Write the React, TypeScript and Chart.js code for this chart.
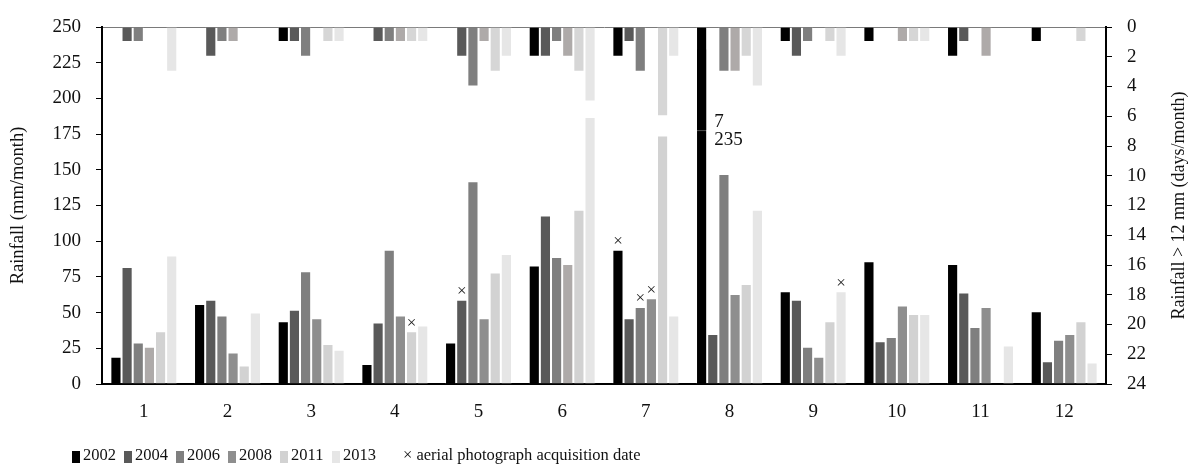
import React, { useEffect, useRef } from 'react';
import { Chart, registerables } from 'chart.js';

Chart.register(...registerables);

// ---------- data ----------
const months = ['1', '2', '3', '4', '5', '6', '7', '8', '9', '10', '11', '12'];
const years = ['2002', '2004', '2006', '2008', '2011', '2013'];

// monthly rainfall (mm/month)
const rain2002 = [19, 56, 44, 14, 29, 83, 94, 235, 65, 86, 84, 51];
const rain2004 = [82, 59, 52, 43, 59, 118, 46, 35, 59, 30, 64, 16];
const rain2006 = [29, 48, 79, 94, 142, 89, 54, 147, 26, 33, 40, 31];
const rain2008 = [26, 22, 46, 48, 46, 84, 60, 63, 19, 55, 54, 35];
const rain2011 = [37, 13, 28, 37, 78, 122, 174, 70, 44, 49, null, 44];
const rain2013 = [90, 50, 24, 41, 91, 187, 48, 122, 65, 49, 27, 15];

// days with rainfall > 12 mm (days/month)
const days2002 = [0, 0, 1, 0, 0, 2, 2, 7, 1, 1, 2, 1];
const days2004 = [1, 2, 1, 1, 2, 2, 1, 0, 2, 0, 1, 0];
const days2006 = [1, 1, 2, 1, 4, 1, 3, 3, 1, 0, 0, 0];
const days2008 = [0, 1, 0, 1, 1, 2, 0, 3, 0, 1, 2, 0];
const days2011 = [0, 0, 1, 1, 3, 3, 6, 2, 1, 1, 0, 1];
const days2013 = [3, 0, 1, 1, 2, 5, 2, 4, 2, 1, 0, 0];

const rainTicksMax = 250;
const daysTicksMax = 24;

// aerial photograph acquisition dates: [month index, year index]
const aerialMarks: [number, number][] = [
  [3, 4],
  [4, 1],
  [6, 0],
  [6, 2],
  [6, 3],
  [8, 5],
];
const breakMonthIndex = 7; // month 8, 2002 bar annotated with its values

// ---------- styles ----------
const FONT = '"Liberation Serif", "Times New Roman", serif';
const rainColors = ['#000000', '#595959', '#7f7f7f', '#8e8e8e', '#d2d2d2', '#e6e6e6'];
const dayColors = ['#000000', '#595959', '#7f7f7f', '#aeaaa9', '#d6d6d6', '#e6e6e6'];
const legendColors = ['#000000', '#595959', '#7f7f7f', '#8e8e8e', '#d2d2d2', '#e6e6e6'];
const altRain2008Color = '#aeaaa9';
const altRain2008Months = [0, 5];

const rainSeries = [rain2002, rain2004, rain2006, rain2008, rain2011, rain2013];
const daySeries = [days2002, days2004, days2006, days2008, days2011, days2013];

const overlayPlugin = {
  id: 'overlay',
  afterDatasetsDraw(chart: any) {
    const ctx = chart.ctx;
    ctx.save();
    // aerial photograph markers
    ctx.font = `17px ${FONT}`;
    ctx.fillStyle = '#222';
    ctx.textAlign = 'center';
    ctx.textBaseline = 'middle';
    aerialMarks.forEach(([m, yi]) => {
      const el = chart.getDatasetMeta(yi).data[m];
      if (el) ctx.fillText('×', el.x, el.y - 8);
    });
    // break annotation on month 8 / 2002
    const dayEl = chart.getDatasetMeta(6).data[breakMonthIndex];
    if (dayEl) {
      ctx.font = `19px ${FONT}`;
      ctx.fillStyle = '#111';
      ctx.textAlign = 'left';
      const lx = dayEl.x + dayEl.width / 2 + 7;
      ctx.fillText(String(days2002[breakMonthIndex]), lx, dayEl.y - 9);
      ctx.fillText(String(rain2002[breakMonthIndex]), lx, dayEl.y + 9);
    }
    // right axis title (reads bottom-to-top)
    const s = chart.scales.y2;
    const ca = chart.chartArea;
    ctx.translate(s.right - 15, (ca.top + ca.bottom) / 2);
    ctx.rotate(-Math.PI / 2);
    ctx.textAlign = 'center';
    ctx.font = `18px ${FONT}`;
    ctx.fillStyle = '#111';
    ctx.fillText('Rainfall > 12 mm (days/month)', 0, 0);
    ctx.restore();
  },
};

export default function App() {
  const ref = useRef<HTMLCanvasElement | null>(null);

  useEffect(() => {
    if (!ref.current) return;
    const rainDatasets = years.map((y, i) => ({
      type: 'bar' as const,
      label: y,
      data: rainSeries[i],
      yAxisID: 'y',
      stack: y,
      order: 1,
      backgroundColor:
        i === 3
          ? months.map((_, m) => (altRain2008Months.includes(m) ? altRain2008Color : rainColors[i]))
          : rainColors[i],
      borderColor: 'rgba(255,255,255,0.4)',
      borderWidth: 1,
      borderSkipped: 'start' as const,
      barPercentage: 1,
      categoryPercentage: 0.8,
    }));
    const dayDatasets = years.map((y, i) => ({
      type: 'bar' as const,
      label: y + ' days',
      data: daySeries[i],
      yAxisID: 'y2',
      stack: y,
      order: 0,
      backgroundColor: dayColors[i],
      borderColor: 'rgba(255,255,255,0.5)',
      borderWidth: 1,
      borderSkipped: 'start' as const,
      barPercentage: 1,
      categoryPercentage: 0.8,
    }));

    const tickFont = { family: FONT, size: 19 };
    const chart = new Chart(ref.current, {
      type: 'bar',
      data: { labels: months, datasets: [...rainDatasets, ...dayDatasets] as any },
      options: {
        animation: false,
        responsive: true,
        maintainAspectRatio: false,
        layout: { padding: { top: 27, left: 0, right: 0, bottom: 0 } },
        plugins: { legend: { display: false }, tooltip: { enabled: false } },
        scales: {
          x: {
            grid: { display: false, drawTicks: false },
            border: { display: true, color: '#000', width: 2 },
            ticks: { font: tickFont, color: '#111', padding: 17 },
            afterFit: (s: any) => {
              s.height = 56;
            },
          },
          y: {
            position: 'left',
            min: 0,
            max: rainTicksMax,
            stacked: false,
            ticks: { stepSize: 25, font: tickFont, color: '#111', padding: 15 },
            grid: {
              drawOnChartArea: true,
              color: (c: any) => (c.tick && c.tick.value === rainTicksMax ? '#7a7a7a' : 'rgba(0,0,0,0)'),
              tickColor: '#000',
              tickLength: 6,
              lineWidth: 1,
            },
            border: { display: true, color: '#000', width: 2 },
            title: {
              display: true,
              text: 'Rainfall (mm/month)',
              font: { family: FONT, size: 18.5 },
              color: '#111',
              padding: { top: 7, bottom: 0 },
            },
            afterFit: (s: any) => {
              s.width = 102;
            },
          },
          y2: {
            position: 'right',
            reverse: true,
            min: 0,
            max: daysTicksMax,
            stacked: false,
            ticks: { stepSize: 2, font: tickFont, color: '#111', padding: 15 },
            grid: { drawOnChartArea: false, tickColor: '#000', tickLength: 6 },
            border: { display: true, color: '#000', width: 2 },
            afterFit: (s: any) => {
              s.width = 88;
            },
          },
        } as any,
      },
      plugins: [overlayPlugin],
    });
    return () => chart.destroy();
  }, []);

  return (
    <>
      <div style={{ position: 'fixed', left: 0, top: 0, width: 1194, height: 440 }}>
        <canvas ref={ref} style={{ display: 'block' }} />
      </div>
      <div
        style={{
          position: 'fixed',
          left: 72,
          top: 446,
          display: 'flex',
          alignItems: 'center',
          font: `16.5px ${FONT}`,
          color: '#111',
          whiteSpace: 'nowrap',
          lineHeight: '18px',
        }}
      >
        {years.map((y, i) => (
          <div key={y} style={{ width: 52, display: 'flex', alignItems: 'center' }}>
            <span
              style={{
                display: 'inline-block',
                width: 8,
                height: 12,
                background: legendColors[i],
                marginRight: 3,
                marginTop: 4,
              }}
            />
            <span>{y}</span>
          </div>
        ))}
        <div style={{ marginLeft: 19 }}>× aerial photograph acquisition date</div>
      </div>
    </>
  );
}
